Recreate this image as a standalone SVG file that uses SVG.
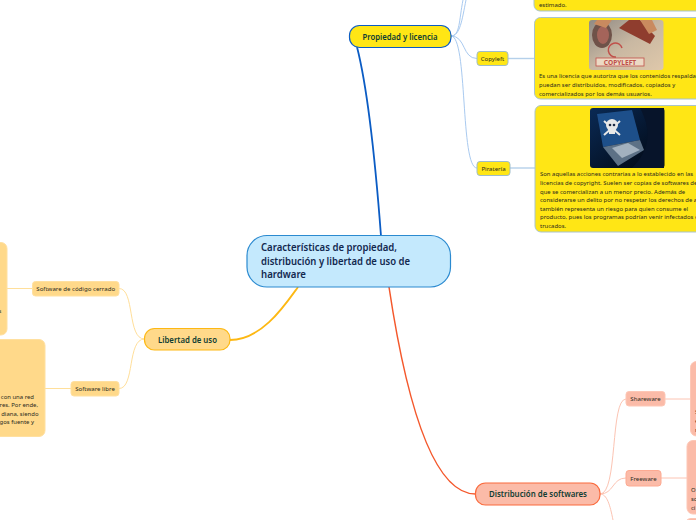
<svg xmlns="http://www.w3.org/2000/svg" width="696" height="520" viewBox="0 0 696 520">
<style>
text{font-family:"Noto Sans","Open Sans","Liberation Sans",sans-serif;fill:#2a2a1c}
.s{font-size:6.100px}
.c{font-size:5.950px}
.m{font-size:9px;font-weight:600;fill:#0f3d33;text-anchor:middle}
.t{font-size:10.200px;font-weight:600;fill:#12284f}
.y{fill:#ffe615}
.o{fill:#ffd98a}
.r{fill:#fbbba8}
.ln{fill:none}
</style>
<defs>
<linearGradient id="tan" x1="0" y1="0" x2="1" y2="1"><stop offset="0" stop-color="#8f8a84"/><stop offset="0.5" stop-color="#c9b8a2"/><stop offset="1" stop-color="#dfc8aa"/></linearGradient>
<linearGradient id="night" x1="0" y1="0" x2="1" y2="1"><stop offset="0" stop-color="#0a2a55"/><stop offset="1" stop-color="#01060f"/></linearGradient>
</defs>
<g id="connectors" class="ln">
<path d="M381 236C376 170 368 90 357 47" stroke="#0b5cc4" stroke-width="1.800"/>
<path d="M298 287C285 305 262 340 230 340" stroke="#fdb813" stroke-width="1.800"/>
<path d="M389 287C400 360 425 494 475.500 494" stroke="#f4582c" stroke-width="1.500"/>
<g stroke="#a9caf0" stroke-width="1">
<path d="M451 36C460 36 462 20 466 0"/>
<path d="M451 36C460 36 459 20 463 0"/>
<path d="M451 36C466 36 462 58.500 477 58.500"/>
<path d="M451 36C468 36 460 168 477 168"/>
</g>
<g stroke="#b5d0ea" stroke-width="1.400">
<path d="M508 58.500H534"/>
<path d="M510 168H535"/>
</g>
<g stroke="#ffdf9a" stroke-width="1">
<path d="M144.500 339C127 339 135 288.500 119 288.500"/>
<path d="M144.500 339C127 339 135 388.500 119 388.500"/>
<path d="M32.500 288.500H7"/>
<path d="M71 388.500H45"/>
</g>
<g stroke="#fcc4b3" stroke-width="1">
<path d="M600 494C618 494 610 399 626 399"/>
<path d="M600 494C614 494 612 478 626 478"/>
<path d="M600 494C607 494 610 505 613 520"/>
<path d="M665 399H690"/>
<path d="M661 478H687"/>
</g>
</g>
<g id="center"><rect x="247" y="235.500" width="203.500" height="51.500" rx="20" fill="#c4e9fd" stroke="#2b8ad0" stroke-width="1.200"/>
<text class="t" x="261" y="251" textLength="136" lengthAdjust="spacingAndGlyphs">Características de propiedad,</text>
<text class="t" x="261" y="265" textLength="149" lengthAdjust="spacingAndGlyphs">distribución y libertad de uso de</text>
<text class="t" x="261" y="278" textLength="45" lengthAdjust="spacingAndGlyphs">hardware</text></g>
<g id="propiedad"><rect x="349.500" y="25.500" width="101.500" height="22" rx="10" class="y" stroke="#0b5cc4" stroke-width="1.200"/><text class="m" x="400" y="39.500" textLength="75" lengthAdjust="spacingAndGlyphs">Propiedad y licencia</text></g>
<g id="card-top"><rect x="534" y="-30" width="180" height="41" rx="6" class="y" stroke="#a9c4cc"/><text class="c" x="539" y="7">estimado.</text></g>
<g id="copyleft"><rect x="477" y="51.500" width="31" height="14" rx="3" class="y" stroke="#9dbccb"/><text class="s" x="492.500" y="61" text-anchor="middle">Copyleft</text></g>
<g id="card-copyleft"><rect x="534.500" y="17.500" width="180" height="81.500" rx="6" class="y" stroke="#a9c4cc"/>
<rect x="589" y="20" width="74.500" height="50" rx="3" fill="url(#tan)"/>
<path d="M619 28L629 20H640L655 36L650 44Z" fill="#8f3d2e"/>
<path d="M640 20H652L657 30L649 34Z" fill="#c98a5f"/>
<ellipse cx="602" cy="35" rx="10" ry="13" fill="#6f5249"/><ellipse cx="603" cy="35" rx="6" ry="9" fill="#a4645a"/>
<path d="M594 24L597 20H612L606 28Z" fill="#c98a5f"/>
<path d="M622 48A7 7 0 1 0 616 57" fill="none" stroke="#c0504a" stroke-width="1.500"/>
<rect x="596" y="58" width="48" height="8" fill="#ecd9c4" stroke="#c0504a" stroke-width="0.800"/>
<text x="620" y="64.800" text-anchor="middle" style="font-size:6.600px;font-weight:700;fill:#c0504a">COPYLEFT</text>
<text class="c" x="539" y="78">Es una licencia que autoriza que los contenidos respalda</text>
<text class="c" x="539" y="87">puedan ser distribuidos, modificados, copiados y</text>
<text class="c" x="539" y="95.500">comercializados por los demás usuarios.</text></g>
<g id="pirateria"><rect x="477" y="161.500" width="33" height="14" rx="3" class="y" stroke="#9dbccb"/><text class="s" x="493.500" y="171" text-anchor="middle">Piratería</text></g>
<g id="card-pirateria"><rect x="535" y="105.500" width="180" height="126.500" rx="6" class="y" stroke="#a9c4cc"/>
<rect x="590" y="108" width="74.500" height="60" rx="3" fill="url(#night)"/>
<path d="M597 114L632 110L640 140L603 147Z" fill="#1d4f8a"/>
<path d="M603 147L640 140L644 150L618 166Z" fill="#5d7186"/>
<path d="M640 108H664V168H632C650 150 652 130 640 108Z" fill="#07142a"/>
<path d="M612 148L628 143L640 150L622 158Z" fill="#a3b1bf"/>
<circle cx="612" cy="125" r="6" fill="#e8e8e8"/><rect x="609" y="129" width="6" height="5" fill="#e8e8e8"/>
<path d="M604 121L620 135M620 121L604 135" stroke="#e8e8e8" stroke-width="2"/>
<circle cx="610" cy="125" r="1.300" fill="#1d2a44"/><circle cx="614" cy="125" r="1.300" fill="#1d2a44"/>
<text class="c" x="540" y="176">Son aquellas acciones contrarias a lo establecido en las</text>
<text class="c" x="540" y="185">licencias de copyright. Suelen ser copias de softwares de</text>
<text class="c" x="540" y="193.500">que se comercializan a un menor precio. Además de</text>
<text class="c" x="540" y="202">considerarse un delito por no respetar los derechos de a</text>
<text class="c" x="540" y="210.500">también representa un riesgo para quien consume el</text>
<text class="c" x="540" y="219">producto, pues los programas podrían venir infectados o</text>
<text class="c" x="540" y="227.500">trucados.</text></g>
<g id="libertad"><rect x="144.500" y="328.500" width="85.500" height="21.500" rx="10" class="o" stroke="#fdb813" stroke-width="1.200"/><text class="m" x="187.500" y="342.500" textLength="59" lengthAdjust="spacingAndGlyphs">Libertad de uso</text></g>
<g id="cerrado"><rect x="32.500" y="281.500" width="86.500" height="14.500" rx="3" class="o" stroke="#ffe0a0"/><text class="s" x="75.700" y="291" text-anchor="middle">Software de código cerrado</text></g>
<g id="card-cerrado"><rect x="-40" y="242.500" width="47" height="92.500" rx="6" class="o" stroke="#ffe0a0"/><text class="c" x="-1.500" y="313">s</text></g>
<g id="libre"><rect x="71" y="381.500" width="48" height="14.500" rx="3" class="o" stroke="#ffe0a0"/><text class="s" x="95" y="391" text-anchor="middle">Software libre</text></g>
<g id="card-libre"><rect x="-60" y="339.500" width="105" height="97" rx="6" class="o" stroke="#ffe0a0"/>
<text class="c" x="34" y="398.500" text-anchor="end">con una red</text>
<text class="c" x="38" y="407" text-anchor="end">res. Por ende,</text>
<text class="c" x="38.500" y="415.500" text-anchor="end">diana, siendo</text>
<text class="c" x="34" y="424" text-anchor="end">gos fuente y</text></g>
<g id="distribucion"><rect x="475.500" y="483" width="124.500" height="22" rx="10" class="r" stroke="#fa6a3c" stroke-width="1.200"/><text class="m" x="538" y="497" textLength="98" lengthAdjust="spacingAndGlyphs">Distribución de softwares</text></g>
<g id="shareware"><rect x="626" y="391.500" width="39" height="14.500" rx="3" class="r" stroke="#fdc7b6"/><text class="s" x="645.500" y="401" text-anchor="middle">Shareware</text></g>
<g id="card-shareware"><rect x="690.500" y="361.500" width="40" height="74.500" rx="6" class="r" stroke="#fdc7b6"/>
<text class="c" x="695" y="414">S</text><text class="c" x="695" y="423">e</text><text class="c" x="695" y="431.500">r</text></g>
<g id="freeware"><rect x="626" y="470.500" width="35" height="15.500" rx="3" class="r" stroke="#fdaa92"/><text class="s" x="643.500" y="480.500" text-anchor="middle">Freeware</text></g>
<g id="card-freeware"><rect x="687" y="440.500" width="40" height="73.500" rx="6" class="r" stroke="#fdc7b6"/>
<text class="c" x="691" y="492">O</text><text class="c" x="691" y="501">so</text><text class="c" x="691" y="509.500">ci</text></g>
<g id="card-third"><rect x="685" y="518.500" width="40" height="30" rx="6" class="r" stroke="#fdc7b6"/></g>
</svg>
